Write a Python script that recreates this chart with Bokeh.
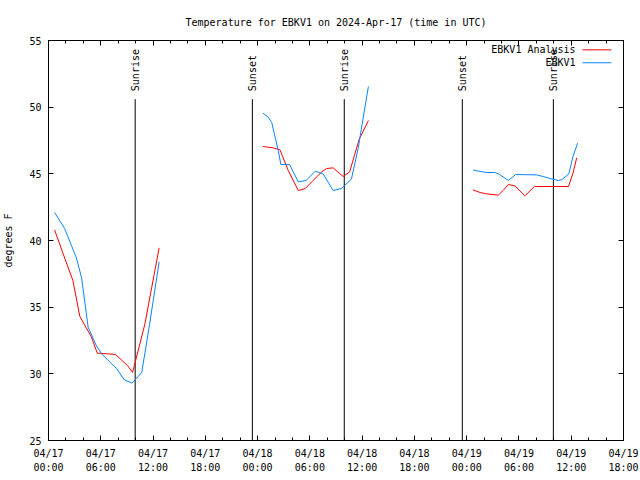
import math
from bokeh.plotting import figure
from bokeh.models import Range1d, LinearAxis, FixedTicker
from bokeh.embed import file_html
from bokeh.resources import INLINE

NaN = float("nan")

# time axis: hours since 2024-04-17 00:00 UTC
x_ticks = [0, 6, 12, 18, 24, 30, 36, 42, 48, 54, 60, 66]
x_minor = list(range(0, 67, 2))
x_tick_labels = ["04/17\n00:00", "04/17\n06:00", "04/17\n12:00", "04/17\n18:00",
                 "04/18\n00:00", "04/18\n06:00", "04/18\n12:00", "04/18\n18:00",
                 "04/19\n00:00", "04/19\n06:00", "04/19\n12:00", "04/19\n18:00"]
y_ticks = [25, 30, 35, 40, 45, 50, 55]

# EBKV1 Analysis (red)
analysis_hours = [0.7, 1.9, 2.8, 3.6, 4.9, 5.6, 6.8, 7.7, 9.1, 9.65, 11.05, 12.7, NaN,
                  24.62, 25.77, 26.57, 27.52, 28.67, 29.47, 30.37, 31.37, 31.92, 32.67, 33.82, 34.57, 35.17, 35.67, 36.72, NaN,
                  48.73, 49.53, 50.28, 51.63, 52.18, 52.78, 53.53, 54.68, 55.78, 58.13, 59.68, 60.18, 60.63]
analysis_temp = [40.8, 38.6, 37.0, 34.3, 32.8, 31.55, 31.5, 31.45, 30.6, 30.1, 33.7, 39.45, NaN,
                 47.05, 46.95, 46.8, 45.25, 43.75, 43.9, 44.5, 45.15, 45.4, 45.45, 44.8, 45.15, 46.5, 47.6, 49.0, NaN,
                 43.8, 43.6, 43.5, 43.4, 43.75, 44.2, 44.1, 43.35, 44.05, 44.05, 44.05, 45.0, 46.2]

# EBKV1 observations (blue)
obs_hours = [0.7, 1.85, 2.65, 3.2, 3.8, 4.55, 5.5, 6.1, 6.85, 7.8, 8.7, 9.6, 10.7, 11.6, 12.7, NaN,
             24.62, 25.22, 25.62, 26.37, 26.67, 27.67, 28.67, 29.57, 30.62, 31.52, 32.67, 33.62, 34.77, 35.57, 36.32, 36.72, NaN,
             48.73, 49.33, 50.28, 51.23, 51.78, 52.78, 53.63, 56.03, 56.78, 57.73, 58.53, 58.93, 59.73, 60.18, 60.73]
obs_temp = [42.1, 40.9, 39.6, 38.7, 37.2, 33.5, 32.1, 31.5, 31.0, 30.4, 29.55, 29.3, 30.1, 33.7, 38.4, NaN,
            49.55, 49.25, 48.85, 46.75, 45.7, 45.7, 44.4, 44.5, 45.2, 45.0, 43.75, 43.9, 44.6, 47.0, 50.0, 51.55, NaN,
            45.3, 45.2, 45.1, 45.1, 44.95, 44.5, 44.95, 44.92, 44.8, 44.62, 44.5, 44.57, 45.0, 46.25, 47.3]

# sunrise / sunset markers
event_hours = [9.95, 23.4, 33.95, 47.5, 57.95]
event_names = ["Sunrise", "Sunset", "Sunrise", "Sunset", "Sunrise"]
event_top = 50.6

series_names = ["EBKV1 Analysis", "EBKV1"]
series_colors = ["#ff0000", "#0a84ff"]

FONT = "DejaVu Sans Mono"
FS = "10px"

p = figure(frame_width=575, frame_height=400,
           x_range=Range1d(0, 66), y_range=Range1d(25, 55),
           output_backend="svg", toolbar_location=None,
           min_border_left=47, min_border_right=18,
           min_border_top=40, min_border_bottom=40,
           title="Temperature for EBKV1 on 2024-Apr-17 (time in UTC)")

p.title.text_font = FONT
p.title.text_font_size = FS
p.title.text_font_style = "normal"
p.title.text_color = "black"
p.title.align = "center"
p.title.standoff = 25

p.xgrid.visible = False
p.ygrid.visible = False
p.outline_line_color = "black"
p.outline_line_alpha = 1.0
p.background_fill_color = "white"
p.border_fill_color = "white"

xa = p.xaxis[0]
xa.ticker = FixedTicker(ticks=x_ticks, minor_ticks=x_minor)
xa.major_label_overrides = {t: lab for t, lab in zip(x_ticks, x_tick_labels)}
xa.major_label_text_line_height = 1.35
ya = p.yaxis[0]
ya.ticker = FixedTicker(ticks=y_ticks, minor_ticks=[])
ya.axis_label = "degrees F"
ya.axis_label_text_font = FONT
ya.axis_label_text_font_size = FS
ya.axis_label_text_font_style = "normal"
ya.axis_label_text_color = "black"
ya.axis_label_standoff = 12

for ax in (xa, ya):
    ax.axis_line_color = None
    ax.major_tick_in = 5
    ax.major_tick_out = 0
    ax.minor_tick_in = 3
    ax.minor_tick_out = 0
    ax.major_label_text_font = FONT
    ax.major_label_text_font_size = FS
    ax.major_label_text_color = "black"
    ax.major_tick_line_color = "black"
    ax.minor_tick_line_color = "black"
xa.major_label_standoff = 7
ya.major_label_standoff = 7

# mirrored tics on the right and top borders (no labels)
right = LinearAxis(ticker=FixedTicker(ticks=y_ticks, minor_ticks=[]),
                   major_label_overrides={t: "" for t in y_ticks},
                   axis_line_color=None, major_tick_in=5, major_tick_out=0,
                   minor_tick_in=0, minor_tick_out=0, major_label_standoff=0)
p.add_layout(right, "right")
top = LinearAxis(ticker=FixedTicker(ticks=x_ticks, minor_ticks=x_minor),
                 major_label_overrides={t: "" for t in x_ticks},
                 axis_line_color=None, major_tick_in=5, major_tick_out=0,
                 minor_tick_in=3, minor_tick_out=0, major_label_standoff=0)
p.add_layout(top, "above")

# sunrise / sunset lines and labels
p.segment(x0=event_hours, x1=event_hours, y0=[25] * len(event_hours),
          y1=[event_top] * len(event_hours), line_color="black", line_width=1)
p.text(x=event_hours, y=[event_top + 0.6] * len(event_hours), text=event_names,
       angle=math.pi / 2, text_align="left", text_baseline="middle",
       text_font=dict(value=FONT), text_font_size=dict(value=FS), text_color="black")

# data lines
p.line(analysis_hours, analysis_temp, line_color=series_colors[0], line_width=1)
p.line(obs_hours, obs_temp, line_color=series_colors[1], line_width=1)

# gnuplot-style key (text left, sample right), top right corner
key_text_x = 60.5
key_x0, key_x1 = 61.3, 64.6
key_y = [54.3, 53.33]
p.text(x=[key_text_x] * 2, y=key_y, text=series_names, text_align="right",
       text_baseline="middle", text_font=dict(value=FONT), text_font_size=dict(value=FS),
       text_color="black")
p.segment(x0=[key_x0] * 2, x1=[key_x1] * 2, y0=key_y, y1=key_y,
          line_color=series_colors, line_width=1)

open("out.html", "w").write(file_html(p, INLINE))
